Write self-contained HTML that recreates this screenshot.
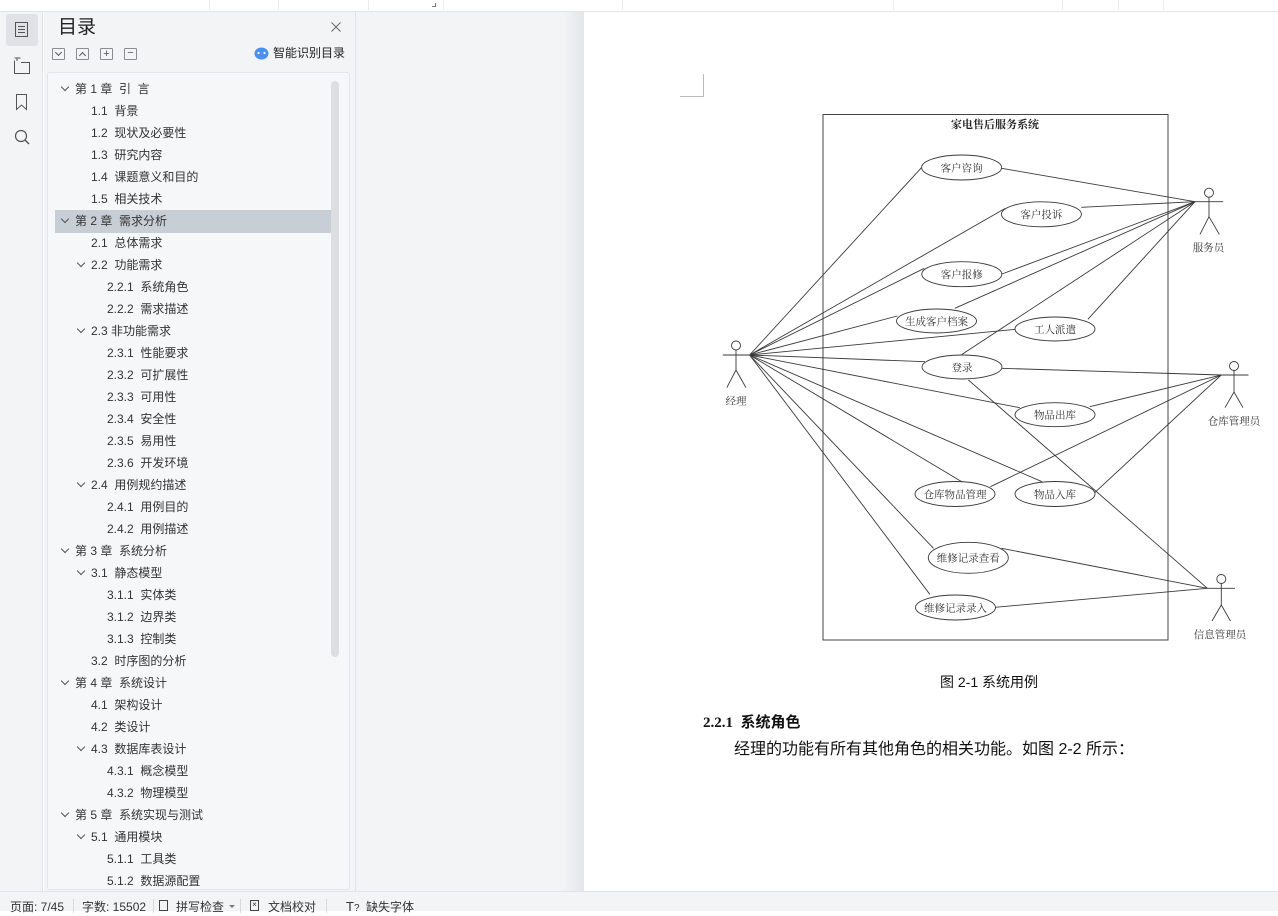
<!DOCTYPE html>
<html><head><meta charset="utf-8">
<style>
*{margin:0;padding:0;box-sizing:border-box}
html,body{width:1278px;height:911px;overflow:hidden;background:#fff;font-family:"Liberation Sans","Noto Sans CJK SC",sans-serif;color:#333}
.abs{position:absolute}
#topbar{left:0;top:0;width:1278px;height:12px;background:#fff;border-bottom:1px solid #e4e5e7}
.tsep{position:absolute;top:0;width:1px;height:10px;background:#ececec}
#strip{left:0;top:12px;width:43px;height:879px;background:#f3f4f6;border-right:1px solid #e1e3e6}
#panel{left:44px;top:12px;width:312px;height:879px;background:#f3f4f6;border-right:1px solid #e1e3e6}
#gray{left:356px;top:12px;width:228px;height:879px;background:linear-gradient(to right,#f3f4f6 0,#f3f4f6 207px,#e4e5e8 228px)}
#page{left:584px;top:12px;width:694px;height:879px;background:#fff}
#tocbox{left:47px;top:72px;width:303px;height:818px;background:#f6f7f9;border:1px solid #e3e5e8;border-radius:3px;overflow:hidden}
.row{position:absolute;height:22px;line-height:22px;font-size:12px;white-space:pre;color:#333}
.chev{position:absolute;width:6px;height:6px;border-right:1.2px solid #555;border-bottom:1.2px solid #555;transform:rotate(45deg)}
#status{left:0;top:891px;width:1278px;height:20px;background:#f3f4f6;border-top:1px solid #e1e3e6}
.st{position:absolute;top:8px;font-size:12px;line-height:14px;white-space:pre;color:#333}
.ssep{position:absolute;top:7px;width:1px;height:14px;background:#d8d9dc}
.tb{position:absolute;top:48px;width:13px;height:12px;border:1px solid #8a8d92;border-radius:1px}
</style></head><body>

<div id="topbar" class="abs">
  <div class="tsep" style="left:209px"></div>
  <div class="tsep" style="left:278px"></div>
  <div class="tsep" style="left:368px"></div>
  <div class="tsep" style="left:443px"></div>
  <div class="tsep" style="left:622px"></div>
  <div class="tsep" style="left:893px"></div>
  <div class="tsep" style="left:1062px"></div>
  <div class="tsep" style="left:1118px"></div>
  <div class="tsep" style="left:1163px"></div>
  <div class="abs" style="left:432px;top:3px;width:4px;height:4px;border-right:1px solid #777;border-bottom:1px solid #777"></div>
</div>

<div id="strip" class="abs">
  <div class="abs" style="left:6px;top:2px;width:32px;height:32px;background:#dfe2e6;border-radius:3px"></div>
  <svg class="abs" style="left:0;top:0" width="43" height="140" viewBox="0 12 43 140">
    <rect x="15.5" y="22.5" width="12" height="14" fill="none" stroke="#555" stroke-width="1"/>
    <line x1="18" y1="26.5" x2="25" y2="26.5" stroke="#555"/>
    <line x1="18" y1="29.5" x2="25" y2="29.5" stroke="#555"/>
    <line x1="18" y1="32.5" x2="25" y2="32.5" stroke="#555"/>
    <path d="M14.5 60.5 V73.5 H29.5 V62.5 H21" fill="none" stroke="#555"/>
    <path d="M14.5 58 h6 M17 58 v3" fill="none" stroke="#555"/>
    <path d="M16.5 94.5 V109.5 L21.5 105 L26.5 109.5 V94.5 Z" fill="none" stroke="#555"/>
    <circle cx="21" cy="136" r="5.5" fill="none" stroke="#555" stroke-width="1.2"/>
    <line x1="25" y1="140" x2="29" y2="144" stroke="#555" stroke-width="1.4"/>
  </svg>
</div>

<div id="panel" class="abs">
  <div class="abs" style="left:14px;top:3px;font-size:19px;line-height:26px;color:#222">目录</div>
  <svg class="abs" style="left:286px;top:9px" width="12" height="12"><path d="M1.5 1.5 L10.5 10.5 M10.5 1.5 L1.5 10.5" stroke="#666" stroke-width="1"/></svg>
</div>
<div class="tb" style="left:52px"><div class="chev" style="left:3px;top:1px;width:5px;height:5px;border-width:1px"></div></div>
<div class="tb" style="left:76px"><div class="chev" style="left:3px;top:4px;width:5px;height:5px;border-width:1px;transform:rotate(225deg)"></div></div>
<div class="tb" style="left:100px;font-size:11px;line-height:10px;text-align:center;color:#555">+</div>
<div class="tb" style="left:124px;font-size:11px;line-height:9px;text-align:center;color:#555">−</div>
<svg class="abs" style="left:254px;top:47px" width="15" height="13"><ellipse cx="7.5" cy="6.5" rx="7" ry="6" fill="#4a90f0"/><circle cx="4.5" cy="6" r="1.1" fill="#fff"/><circle cx="10.5" cy="6" r="1.1" fill="#fff"/></svg>
<div class="abs" style="left:273px;top:45px;font-size:12px;line-height:17px;color:#222">智能识别目录</div>

<div id="gray" class="abs"></div>
<div id="page" class="abs"></div>

<div id="tocbox" class="abs">
  <div class="abs" style="left:283px;top:8px;width:8px;height:576px;background:#dcdee2;border-radius:4px"></div>
  <div class="abs" style="left:7px;top:137px;width:276px;height:23px;background:#c8ced6"></div>
</div>

<div id="status" class="abs">
  <div class="st" style="left:10px">页面: 7/45</div>
  <div class="ssep" style="left:73px"></div>
  <div class="st" style="left:82px">字数: 15502</div>
  <div class="ssep" style="left:153px"></div>
  <div class="abs" style="left:159px;top:8px;width:9px;height:11px;border:1px solid #444"></div>
  <div class="st" style="left:176px">拼写检查</div>
  <div class="abs" style="left:229px;top:13px;width:0;height:0;border-left:3px solid transparent;border-right:3px solid transparent;border-top:3px solid #777"></div>
  <div class="ssep" style="left:240px"></div>
  <div class="abs" style="left:250px;top:8px;width:9px;height:11px;border:1px solid #444;font-size:8px;line-height:8px;text-align:center">×</div>
  <div class="st" style="left:268px">文档校对</div>
  <div class="ssep" style="left:326px"></div>
  <div class="st" style="left:346px;font-size:13px">T<span style="font-size:10px">?</span></div>
  <div class="st" style="left:366px">缺失字体</div>
</div>

<!-- page content -->
<div class="abs" style="left:680px;top:96px;width:24px;height:1px;background:#bbb"></div>
<div class="abs" style="left:703px;top:74px;width:1px;height:23px;background:#bbb"></div>

<svg class="abs" style="left:0;top:0" width="1278" height="911" font-family="'Liberation Serif','Noto Serif CJK SC',serif">
  <g stroke="#3a3a3a" stroke-width="0.9" fill="none">
    <rect x="823" y="114.5" width="345" height="525.5" stroke="#444" stroke-width="1"/>
    <line x1="749.6" y1="355" x2="922.4" y2="166.7"/>
    <line x1="749.6" y1="355" x2="1005" y2="208.5"/>
    <line x1="749.6" y1="355" x2="924.3" y2="268.3"/>
    <line x1="749.6" y1="355" x2="897.4" y2="316"/>
    <line x1="749.6" y1="355" x2="1015.4" y2="329.3"/>
    <line x1="749.6" y1="355" x2="925" y2="361.7"/>
    <line x1="749.6" y1="355" x2="1019.8" y2="407.7"/>
    <line x1="749.6" y1="355" x2="961.8" y2="481.7"/>
    <line x1="749.6" y1="355" x2="1042" y2="481.7"/>
    <line x1="749.6" y1="355" x2="933.5" y2="548.3"/>
    <line x1="749.6" y1="355" x2="929.8" y2="594.3"/>
    <line x1="1195" y1="201.7" x2="1001.5" y2="168.3"/>
    <line x1="1195" y1="201.7" x2="1081.3" y2="207.3"/>
    <line x1="1195" y1="201.7" x2="1002" y2="274"/>
    <line x1="1195" y1="201.7" x2="954.8" y2="308.3"/>
    <line x1="1195" y1="201.7" x2="961.8" y2="354.5"/>
    <line x1="1195" y1="201.7" x2="1087.9" y2="319.3"/>
    <line x1="1221.3" y1="375" x2="1001.5" y2="368.3"/>
    <line x1="1221.3" y1="375" x2="1089.7" y2="406.7"/>
    <line x1="1221.3" y1="375" x2="990.4" y2="486.7"/>
    <line x1="1221.3" y1="375" x2="1094" y2="493.3"/>
    <line x1="1207.4" y1="588.3" x2="968.4" y2="380"/>
    <line x1="1207.4" y1="588.3" x2="1001.5" y2="548.3"/>
    <line x1="1207.4" y1="588.3" x2="995.2" y2="607.3"/>
  </g>
  <g stroke="#3a3a3a" stroke-width="0.9" fill="#fff">
    <ellipse cx="961.6" cy="167.5" rx="40" ry="12.5"/>
    <ellipse cx="1041.4" cy="214.3" rx="40" ry="12.5"/>
    <ellipse cx="961.8" cy="274.2" rx="40" ry="12.5"/>
    <ellipse cx="936.5" cy="321" rx="40" ry="12"/>
    <ellipse cx="1055" cy="329" rx="40" ry="12"/>
    <ellipse cx="962" cy="367" rx="40" ry="12"/>
    <ellipse cx="1055" cy="414.7" rx="40" ry="12"/>
    <ellipse cx="955" cy="494" rx="40" ry="12.5"/>
    <ellipse cx="1055" cy="494" rx="40" ry="12.5"/>
    <ellipse cx="968.3" cy="557.8" rx="40" ry="15.5"/>
    <ellipse cx="955.5" cy="607.5" rx="40" ry="12.5"/>
  </g>
  <g stroke="#3a3a3a" stroke-width="0.9" fill="none">
    <circle cx="736" cy="345.5" r="4.5"/>
    <path d="M722.8 355 H749.6 M736 350 V370 L726.8 387.7 M736 370 L746 387.7"/>
    <circle cx="1209" cy="192.7" r="4.5"/>
    <path d="M1195 201.7 H1223.3 M1209 197.2 V216.7 L1200 234.3 M1209 216.7 L1219.3 234.3"/>
    <circle cx="1234" cy="366" r="4.5"/>
    <path d="M1221.3 375 H1248.5 M1234 370.5 V392 L1225 407.7 M1234 392 L1243 407.7"/>
    <circle cx="1221.3" cy="579" r="4.5"/>
    <path d="M1207.4 588.3 H1235 M1221.3 583.5 V605 L1212 621 M1221.3 605 L1230.5 621"/>
  </g>
  <g fill="#333" font-size="10.5" text-anchor="middle">
    <text x="995" y="128" font-size="11" font-weight="bold" fill="#222">家电售后服务系统</text>
    <text x="961.6" y="171.3">客户咨询</text>
    <text x="1041.4" y="218.1">客户投诉</text>
    <text x="961.8" y="278">客户报修</text>
    <text x="936.5" y="324.8">生成客户档案</text>
    <text x="1055" y="332.8">工人派遣</text>
    <text x="962" y="370.8">登录</text>
    <text x="1055" y="418.5">物品出库</text>
    <text x="955" y="497.8">仓库物品管理</text>
    <text x="1055" y="497.8">物品入库</text>
    <text x="968.3" y="561.6">维修记录查看</text>
    <text x="955.5" y="611.3">维修记录录入</text>
    <text x="736" y="404.5">经理</text>
    <text x="1208.5" y="251">服务员</text>
    <text x="1234" y="424.5">仓库管理员</text>
    <text x="1220" y="637.8">信息管理员</text>
  </g>
</svg>

<div class="abs" style="left:940px;top:673px;font-size:14px;line-height:19px;white-space:pre;color:#111;font-family:'Liberation Sans','Noto Sans CJK SC',sans-serif">图 2-1 系统用例</div>
<div class="abs" style="left:703px;top:713px;font-size:15px;line-height:20px;white-space:pre;color:#111;font-weight:bold;font-family:'Liberation Serif','Noto Sans CJK SC',serif">2.2.1  系统角色</div>
<div class="abs" style="left:734px;top:739px;font-size:16px;line-height:21px;white-space:pre;color:#111;font-family:'Liberation Sans','Noto Sans CJK SC',sans-serif">经理的功能有所有其他角色的相关功能。如图 2-2 所示：</div>

<div class="abs" style="left:0;top:0;width:350px;height:889px;overflow:hidden">
<div class="chev" style="left:62px;top:84px"></div><div class="row" style="left:75px;top:78px">第 1 章  引  言</div>
<div class="row" style="left:91px;top:100px">1.1  背景</div>
<div class="row" style="left:91px;top:122px">1.2  现状及必要性</div>
<div class="row" style="left:91px;top:144px">1.3  研究内容</div>
<div class="row" style="left:91px;top:166px">1.4  课题意义和目的</div>
<div class="row" style="left:91px;top:188px">1.5  相关技术</div>
<div class="chev" style="left:62px;top:216px"></div><div class="row" style="left:75px;top:210px">第 2 章  需求分析</div>
<div class="row" style="left:91px;top:232px">2.1  总体需求</div>
<div class="chev" style="left:78px;top:260px"></div><div class="row" style="left:91px;top:254px">2.2  功能需求</div>
<div class="row" style="left:107px;top:276px">2.2.1  系统角色</div>
<div class="row" style="left:107px;top:298px">2.2.2  需求描述</div>
<div class="chev" style="left:78px;top:326px"></div><div class="row" style="left:91px;top:320px">2.3 非功能需求</div>
<div class="row" style="left:107px;top:342px">2.3.1  性能要求</div>
<div class="row" style="left:107px;top:364px">2.3.2  可扩展性</div>
<div class="row" style="left:107px;top:386px">2.3.3  可用性</div>
<div class="row" style="left:107px;top:408px">2.3.4  安全性</div>
<div class="row" style="left:107px;top:430px">2.3.5  易用性</div>
<div class="row" style="left:107px;top:452px">2.3.6  开发环境</div>
<div class="chev" style="left:78px;top:480px"></div><div class="row" style="left:91px;top:474px">2.4  用例规约描述</div>
<div class="row" style="left:107px;top:496px">2.4.1  用例目的</div>
<div class="row" style="left:107px;top:518px">2.4.2  用例描述</div>
<div class="chev" style="left:62px;top:546px"></div><div class="row" style="left:75px;top:540px">第 3 章  系统分析</div>
<div class="chev" style="left:78px;top:568px"></div><div class="row" style="left:91px;top:562px">3.1  静态模型</div>
<div class="row" style="left:107px;top:584px">3.1.1  实体类</div>
<div class="row" style="left:107px;top:606px">3.1.2  边界类</div>
<div class="row" style="left:107px;top:628px">3.1.3  控制类</div>
<div class="row" style="left:91px;top:650px">3.2  时序图的分析</div>
<div class="chev" style="left:62px;top:678px"></div><div class="row" style="left:75px;top:672px">第 4 章  系统设计</div>
<div class="row" style="left:91px;top:694px">4.1  架构设计</div>
<div class="row" style="left:91px;top:716px">4.2  类设计</div>
<div class="chev" style="left:78px;top:744px"></div><div class="row" style="left:91px;top:738px">4.3  数据库表设计</div>
<div class="row" style="left:107px;top:760px">4.3.1  概念模型</div>
<div class="row" style="left:107px;top:782px">4.3.2  物理模型</div>
<div class="chev" style="left:62px;top:810px"></div><div class="row" style="left:75px;top:804px">第 5 章  系统实现与测试</div>
<div class="chev" style="left:78px;top:832px"></div><div class="row" style="left:91px;top:826px">5.1  通用模块</div>
<div class="row" style="left:107px;top:848px">5.1.1  工具类</div>
<div class="row" style="left:107px;top:870px">5.1.2  数据源配置</div>
</div>

</body></html>
